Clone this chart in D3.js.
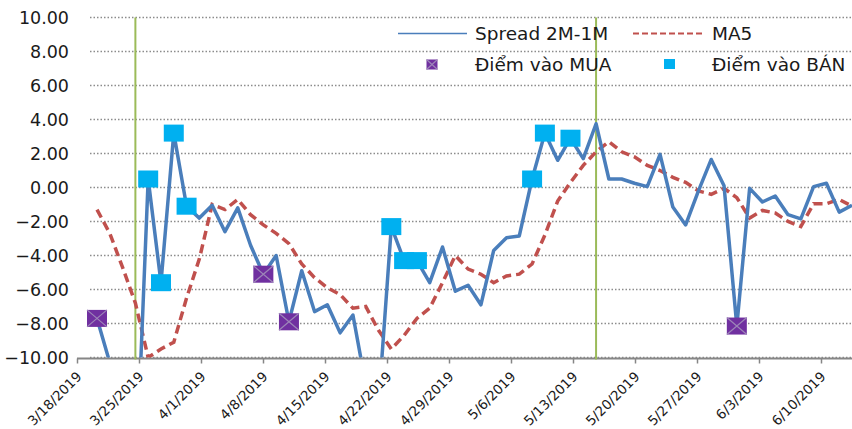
<!DOCTYPE html>
<html>
<head>
<meta charset="utf-8">
<script src="https://cdn.jsdelivr.net/npm/d3@7"></script>
<style>
  body { margin: 0; background: #fff; }
  svg { display: block; font-family: "DejaVu Sans", Verdana, sans-serif; }
</style>
</head>
<body>
<div id="chart"></div>
<script>
/********** Data **********/
// one value per trading session, left to right
var spread = [
  -7.7, -10.3, -12.3, -18.0, 0.5, -5.6, 3.2, -1.1, -1.8, -1.05,
  -2.6, -1.2, -3.4, -5.1, -4.0, -7.9, -4.9, -7.3, -6.9, -8.55,
  -7.5, -11.6, -12.8, -2.3, -4.3, -4.3, -5.6, -3.5, -6.1, -5.75,
  -6.9, -3.7, -2.95, -2.85, 0.5, 3.2, 1.6, 2.9, 1.7, 3.75,
  0.5, 0.5, 0.25, 0.05, 1.95, -1.15, -2.2, -0.2, 1.65, 0.1,
  -8.15, -0.05, -0.85, -0.5, -1.6, -1.85, 0.05, 0.25, -1.45, -1.05
]
var ma5 = [
  -1.3, -2.7, -4.7, -6.8, -10.0, -9.5, -9.1, -6.5, -4.2, -1.0,
  -1.3, -0.7, -1.6, -2.2, -2.7, -3.3, -4.5, -5.3, -5.9, -6.3,
  -7.1, -7.0, -8.4, -9.5, -8.7, -7.7, -7.1, -5.6, -4.0, -4.8,
  -5.1, -5.6, -5.2, -5.1, -4.5, -2.8, -0.8, 0.3, 1.3, 2.1,
  2.7, 2.1, 1.8, 1.3, 1.0, 0.6, 0.3, -0.2, -0.4, -0.05,
  -0.6, -1.8, -1.35, -1.5, -2.0, -2.3, -0.95, -0.95, -0.7, -1.1
]
var buyIdx = [0, 13, 15, 50]                          // Điểm vào MUA
var sellIdx = [4, 5, 6, 7, 23, 24, 25, 34, 35, 37]    // Điểm vào BÁN
var markIdx = [3, 39]                                 // green vertical lines
var tickDates = ["3/18/2019", "3/25/2019", "4/1/2019", "4/8/2019", "4/15/2019",
  "4/22/2019", "4/29/2019", "5/6/2019", "5/13/2019", "5/20/2019",
  "5/27/2019", "6/3/2019", "6/10/2019"]
var yTicks = [-10, -8, -6, -4, -2, 0, 2, 4, 6, 8, 10]

/********** Layout **********/
var width = 852, height = 429
var plotLeft = 77, gridLeft = 90, plotRight = 852

var svg = d3.select("#chart").append("svg")
    .attr("width", width)
    .attr("height", height)

var parseDate = d3.timeParse("%m/%d/%Y")
var fmtDate = d3.timeFormat("%-m/%-d/%Y")

// points are evenly spaced sessions
var x = d3.scaleLinear()
  .domain([0, spread.length - 1])
  .range([97, 852])

// calendar scale for the weekly labels
var xDate = d3.scaleTime()
  .domain([parseDate(tickDates[0]), parseDate(tickDates[tickDates.length - 1])])
  .range([77, 821])

var y = d3.scaleLinear()
  .domain([-10, 10])
  .range([357.5, 17.5])

/********** Grid + Axes **********/
svg.append("g")
  .selectAll("line")
  .data(yTicks)
  .join("line")
    .attr("x1", gridLeft)
    .attr("x2", plotRight)
    .attr("y1", function(d) { return y(d) })
    .attr("y2", function(d) { return y(d) })
    .attr("stroke", "#8c8c8c")
    .attr("stroke-width", 1.3)
    .attr("stroke-dasharray", "1.5,2")

var yAxis = svg.append("g")
  .attr("transform", "translate(" + plotLeft + ",0)")
  .call(d3.axisLeft(y).tickValues(yTicks).tickFormat(d3.format(".2f")).tickSize(0).tickPadding(8))
yAxis.select(".domain").remove()
yAxis.selectAll("text")
  .style("font-size", "17.5px")
  .style("font-family", "'DejaVu Sans', Verdana, sans-serif")
  .attr("fill", "#1a1a1a")

var xAxis = svg.append("g")
  .attr("transform", "translate(0," + (y(-10) + 1) + ")")
  .call(d3.axisBottom(xDate)
    .tickValues(tickDates.map(parseDate))
    .tickFormat(fmtDate)
    .tickSizeOuter(0)
    .tickSize(5))
xAxis.select(".domain").remove()
xAxis.selectAll(".tick line").attr("stroke", "#868686").attr("stroke-width", 1.5)
xAxis.selectAll("text")
  .style("font-size", "13.5px")
  .style("font-family", "'DejaVu Sans', Verdana, sans-serif")
  .attr("fill", "#1a1a1a")
  .attr("text-anchor", "end")
  .attr("y", 0)
  .attr("dy", 0)
  .attr("transform", "translate(5,19) rotate(-45)")

svg.append("line")
  .attr("x1", plotLeft)
  .attr("x2", plotRight)
  .attr("y1", y(-10) + 1)
  .attr("y2", y(-10) + 1)
  .attr("stroke", "#868686")
  .attr("stroke-width", 2)

// green markers
svg.append("g")
  .selectAll("line")
  .data(markIdx)
  .join("line")
    .attr("x1", function(d) { return x(d) })
    .attr("x2", function(d) { return x(d) })
    .attr("y1", y(10))
    .attr("y2", y(-10) + 2)
    .attr("stroke", "#9bbb59")
    .attr("stroke-width", 2)

/********** Series **********/
svg.append("clipPath").attr("id", "plotClip")
  .append("rect")
    .attr("x", plotLeft)
    .attr("y", 0)
    .attr("width", plotRight - plotLeft)
    .attr("height", y(-10))

var line = d3.line()
  .x(function(d, i) { return x(i) })
  .y(function(d) { return y(d) })

var series = svg.append("g").attr("clip-path", "url(#plotClip)")

series.append("path")
  .datum(ma5)
  .attr("fill", "none")
  .attr("stroke", "#c0504d")
  .attr("stroke-width", 3.5)
  .attr("stroke-dasharray", "9,5")
  .attr("d", line)

series.append("path")
  .datum(spread)
  .attr("fill", "none")
  .attr("stroke", "#4a7ebb")
  .attr("stroke-width", 3.5)
  .attr("stroke-linejoin", "round")
  .attr("d", line)

/********** Markers **********/
var mw = 20, mh = 17

function buyMarker(g, cx, cy, w, h) {
  g.append("rect")
    .attr("x", cx - w / 2).attr("y", cy - h / 2)
    .attr("width", w).attr("height", h)
    .attr("fill", "#7030a0")
  g.append("path")
    .attr("d", "M" + (cx - w / 2) + "," + (cy - h / 2) + "L" + (cx + w / 2) + "," + (cy + h / 2) +
               "M" + (cx - w / 2) + "," + (cy + h / 2) + "L" + (cx + w / 2) + "," + (cy - h / 2))
    .attr("stroke", "#9d86b8")
    .attr("stroke-width", 1.2)
}

sellIdx.forEach(function(i) {
  svg.append("rect")
    .attr("x", x(i) - mw / 2)
    .attr("y", y(spread[i]) - mh / 2)
    .attr("width", mw)
    .attr("height", mh)
    .attr("fill", "#00b0f0")
})

buyIdx.forEach(function(i) {
  buyMarker(svg.append("g"), x(i), y(spread[i]), mw, mh)
})

/********** Legend **********/
var legend = svg.append("g")
  .style("font-size", "18.5px")
  .attr("fill", "#1a1a1a")

legend.append("line")
  .attr("x1", 398).attr("x2", 467).attr("y1", 33.5).attr("y2", 33.5)
  .attr("stroke", "#4a7ebb").attr("stroke-width", 1.5)
legend.append("text").attr("x", 475).attr("y", 40).text("Spread 2M-1M")

legend.append("line")
  .attr("x1", 633).attr("x2", 705).attr("y1", 33.5).attr("y2", 33.5)
  .attr("stroke", "#c0504d").attr("stroke-width", 2).attr("stroke-dasharray", "6,3")
legend.append("text").attr("x", 712).attr("y", 40).text("MA5")

buyMarker(legend.append("g"), 432, 64.5, 11, 10)
legend.append("text").attr("x", 475).attr("y", 71).text("Điểm vào MUA")

legend.append("rect")
  .attr("x", 664).attr("y", 59).attr("width", 11).attr("height", 10)
  .attr("fill", "#00b0f0")
legend.append("text").attr("x", 712).attr("y", 71).text("Điểm vào BÁN")
</script>
</body>
</html>
